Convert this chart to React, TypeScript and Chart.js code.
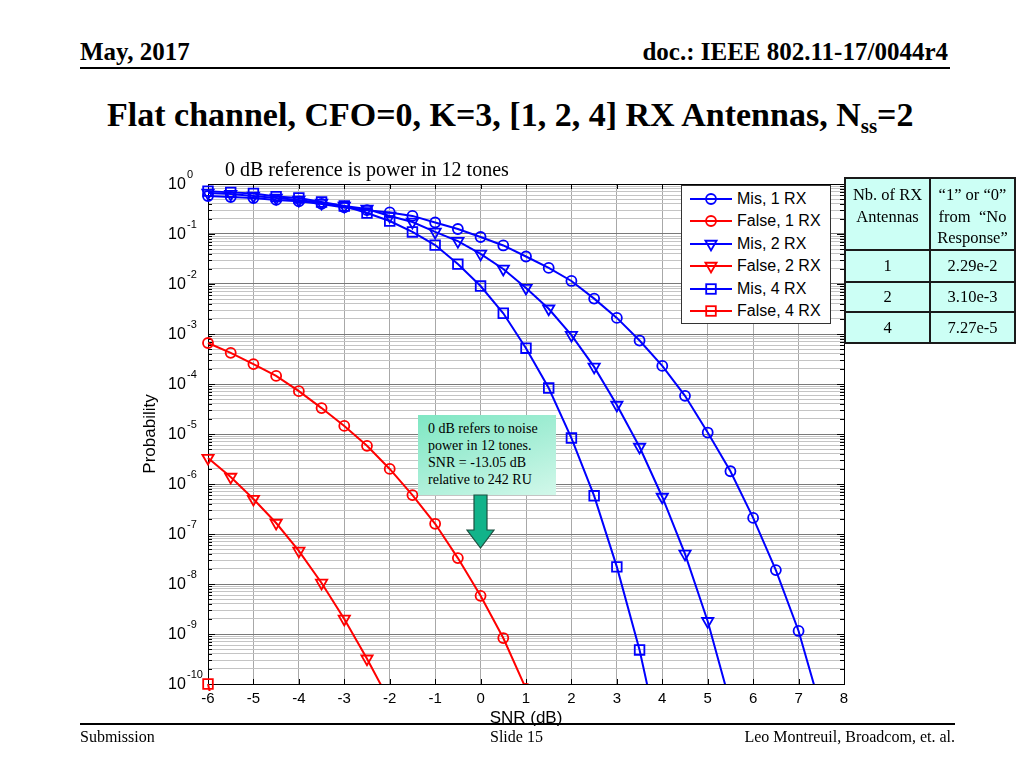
import React, { useEffect, useRef } from "react";
import { Chart, registerables } from "chart.js";
Chart.register(...registerables);

// ---- data ----
const snr = [-6, -5.5, -5, -4.5, -4, -3.5, -3, -2.5, -2, -1.5, -1, -0.5, 0, 0.5, 1, 1.5, 2, 2.5, 3, 3.5, 4, 4.5, 5, 5.5, 6, 6.5, 7, 7.5, 8];
const misRx1 = [0.575, 0.55, 0.525, 0.48, 0.45, 0.40, 0.34, 0.30, 0.27, 0.23, 0.17, 0.126, 0.087, 0.059, 0.0355, 0.021, 0.0115, 5.1e-3, 2.1e-3, 7.4e-4, 2.3e-4, 5.8e-5, 1.07e-5, 1.8e-6, 2.1e-7, 1.9e-8, 1.15e-9, 3e-11, null];
const falseRx1 = [6.6e-4, 4.2e-4, 2.5e-4, 1.45e-4, 7.2e-5, 3.3e-5, 1.45e-5, 5.8e-6, 2e-6, 6e-7, 1.6e-7, 3.3e-8, 5.8e-9, 8.3e-10, 8e-11, null, null, null, null, null, null, null, null, null, null, null, null, null, null];
const misRx2 = [0.66, 0.63, 0.575, 0.525, 0.48, 0.417, 0.363, 0.316, 0.229, 0.174, 0.11, 0.072, 0.04, 0.02, 8.3e-3, 3.2e-3, 9.5e-4, 2.2e-4, 3.8e-5, 5.5e-6, 5.5e-7, 4e-8, 1.8e-9, 4e-11, null, null, null, null, null];
const falseRx2 = [3.3e-6, 1.38e-6, 5e-7, 1.66e-7, 4.6e-8, 1.05e-8, 2e-9, 3.2e-10, 4.5e-11, null, null, null, null, null, null, null, null, null, null, null, null, null, null, null, null, null, null, null, null];
const misRx4 = [0.72, 0.68, 0.645, 0.56, 0.525, 0.437, 0.363, 0.263, 0.182, 0.11, 0.06, 0.025, 9.1e-3, 2.6e-3, 5.2e-4, 8.3e-5, 8.3e-6, 5.8e-7, 2.2e-8, 4.8e-10, 4e-12, null, null, null, null, null, null, null, null];
const falseRx4 = [1e-10, 1e-12, null, null, null, null, null, null, null, null, null, null, null, null, null, null, null, null, null, null, null, null, null, null, null, null, null, null, null];

const seriesNames = ["Mis, 1 RX", "False, 1 RX", "Mis, 2 RX", "False, 2 RX", "Mis, 4 RX", "False, 4 RX"];
const xTickValues = [-6, -5, -4, -3, -2, -1, 0, 1, 2, 3, 4, 5, 6, 7, 8];
const yDecades = [0, -1, -2, -3, -4, -5, -6, -7, -8, -9, -10];

const tableHeader = [["Nb. of RX", "Antennas"], ["\u201C1\u201D or \u201C0\u201D", "from  \u201CNo", "Response\u201D"]];
const tableAntennas = ["1", "2", "4"];
const tableValues = ["2.29e-2", "3.10e-3", "7.27e-5"];

const BLUE = "#0000ff";
const RED = "#ff0000";
const SANS = '"Liberation Sans", Arial, Helvetica, sans-serif';
const SERIF = '"Liberation Serif", "Times New Roman", Times, serif';

type Mk = "circle" | "tri" | "rect";
const seriesStyle: { color: string; mk: Mk }[] = [
  { color: BLUE, mk: "circle" },
  { color: RED, mk: "circle" },
  { color: BLUE, mk: "tri" },
  { color: RED, mk: "tri" },
  { color: BLUE, mk: "rect" },
  { color: RED, mk: "rect" },
];
const seriesValues = [misRx1, falseRx1, misRx2, falseRx2, misRx4, falseRx4];

const isDecade = (v: number) => Math.abs(Math.log10(v) - Math.round(Math.log10(v))) < 1e-6;

const framePlugin = {
  id: "frame",
  beforeDatasetsDraw(chart: any) {
    const { ctx, chartArea: a, scales } = chart;
    ctx.save();
    ctx.strokeStyle = "#000";
    ctx.lineWidth = 1;
    ctx.beginPath();
    for (const v of xTickValues) {
      const px = Math.round(scales.x.getPixelForValue(v)) + 0.5;
      ctx.moveTo(px, a.bottom);
      ctx.lineTo(px, a.bottom - 5);
      ctx.moveTo(px, a.top);
      ctx.lineTo(px, a.top + 5);
    }
    for (const t of scales.y.ticks) {
      const py = Math.round(scales.y.getPixelForValue(t.value)) + 0.5;
      const len = isDecade(t.value) ? 7 : 4;
      ctx.moveTo(a.left, py);
      ctx.lineTo(a.left + len, py);
      ctx.moveTo(a.right, py);
      ctx.lineTo(a.right - len, py);
    }
    ctx.stroke();
    ctx.strokeRect(Math.round(a.left) + 0.5, Math.round(a.top) + 0.5, Math.round(a.right - a.left), Math.round(a.bottom - a.top));
    ctx.restore();
  },
  afterDraw(chart: any) {
    const { ctx, scales } = chart;
    ctx.save();
    ctx.fillStyle = "#000";
    ctx.textAlign = "left";
    ctx.textBaseline = "middle";
    for (const e of yDecades) {
      const py = scales.y.getPixelForValue(Math.pow(10, e));
      ctx.font = `16px ${SANS}`;
      ctx.fillText("10", 38, py + 1);
      ctx.font = `11px ${SANS}`;
      ctx.fillText(String(e), 57, py - 9);
    }
    ctx.restore();
  },
};

function ChartCanvas() {
  const ref = useRef<HTMLCanvasElement | null>(null);
  useEffect(() => {
    if (!ref.current) return;
    const datasets = seriesValues.map((vals, i) => {
      const st = seriesStyle[i];
      const data = snr
        .map((x, j) => ({ x, y: vals[j] }))
        .filter((p) => p.y !== null && p.y !== undefined);
      const isLast = i === seriesValues.length - 1;
      return {
        label: seriesNames[i],
        data,
        borderColor: st.color,
        backgroundColor: st.color,
        borderWidth: 2,
        tension: 0,
        pointStyle: st.mk === "circle" ? "circle" : st.mk === "tri" ? "triangle" : "rect",
        pointRotation: st.mk === "tri" ? 180 : 0,
        pointRadius: st.mk === "circle" ? 5 : st.mk === "tri" ? 6.5 : 6.8,
        pointBorderWidth: 1.8,
        pointBorderColor: st.color,
        pointBackgroundColor: "rgba(0,0,0,0)",
        fill: false,
        clip: isLast ? { left: 8, top: 2, right: 2, bottom: 7 } : { left: 8, top: 2, right: 2, bottom: 0 },
      };
    });
    const chart = new Chart(ref.current, {
      type: "line",
      data: { datasets },
      options: {
        animation: false,
        responsive: false,
        maintainAspectRatio: false,
        layout: { padding: { left: 0, right: 16, top: 24, bottom: 0 } },
        plugins: { legend: { display: false }, tooltip: { enabled: false }, title: { display: false } },
        scales: {
          x: {
            type: "linear",
            min: -6,
            max: 8,
            afterFit: (s: any) => {
              s.height = 56;
            },
            afterBuildTicks: (s: any) => {
              s.ticks = xTickValues.map((v) => ({ value: v }));
            },
            ticks: {
              autoSkip: false,
              maxRotation: 0,
              padding: 6,
              color: "#000",
              font: { family: SANS, size: 15 },
              callback: (v: any) => String(v),
            },
            grid: { color: "#a8a8a8", lineWidth: 1, drawTicks: false },
            border: { display: true, color: "#000", width: 1 },
            title: {
              display: true,
              text: "SNR (dB)",
              color: "#000",
              font: { family: SANS, size: 17 },
              padding: { top: 0, bottom: 11 },
            },
          },
          y: {
            type: "logarithmic",
            min: 1e-10,
            max: 1,
            afterFit: (s: any) => {
              s.width = 78;
            },
            afterBuildTicks: (s: any) => {
              const t: { value: number }[] = [];
              for (let e = -10; e <= 0; e++) {
                for (let m = 1; m <= 9; m++) {
                  const v = m * Math.pow(10, e);
                  if (v <= 1.0000001) t.push({ value: v });
                }
              }
              s.ticks = t;
            },
            ticks: { display: false },
            grid: {
              drawTicks: false,
              lineWidth: 1,
              color: (c: any) => (c.tick && isDecade(c.tick.value) ? "#7a7a7a" : "#c4c4c4"),
            },
            border: { display: true, color: "#000", width: 1 },
            title: {
              display: true,
              text: "Probability",
              color: "#000",
              font: { family: SANS, size: 17 },
              padding: { top: 10, bottom: 0 },
            },
          },
        },
      },
      plugins: [framePlugin],
    });
    return () => chart.destroy();
  }, []);
  return (
    <canvas
      ref={ref}
      width={730}
      height={580}
      style={{ position: "absolute", left: 130, top: 160, width: 730, height: 580 }}
    />
  );
}

function MarkerSvg({ color, mk }: { color: string; mk: Mk }) {
  return (
    <svg width={52} height={22} style={{ position: "absolute", left: 0, top: 0 }}>
      <line x1={8} y1={11} x2={50} y2={11} stroke={color} strokeWidth={2} />
      {mk === "circle" && <circle cx={29} cy={11} r={5} fill="none" stroke={color} strokeWidth={1.8} />}
      {mk === "tri" && (
        <polygon points="23.4,7.75 34.6,7.75 29,17.5" fill="none" stroke={color} strokeWidth={1.8} />
      )}
      {mk === "rect" && <rect x={24.2} y={6.2} width={9.6} height={9.6} fill="none" stroke={color} strokeWidth={1.8} />}
    </svg>
  );
}

export default function App() {
  const lineV = (x: number, y1: number, y2: number) => (
    <div style={{ position: "absolute", left: x - 1, top: y1 - 1, width: 2, height: y2 - y1 + 2, background: "#1a1a1a" }} />
  );
  const lineH = (y: number, x1: number, x2: number) => (
    <div style={{ position: "absolute", left: x1 - 1, top: y - 1, width: x2 - x1 + 2, height: 2, background: "#1a1a1a" }} />
  );
  const rowTops = [250, 282, 312];
  const rowBottoms = [282, 312, 343];
  return (
    <div
      style={{
        position: "absolute",
        left: 0,
        top: 0,
        width: 1024,
        height: 768,
        background: "#fff",
        overflow: "hidden",
        fontFamily: SERIF,
        color: "#000",
      }}
    >
      {/* header */}
      <div style={{ position: "absolute", left: 80, top: 39, fontSize: 25, fontWeight: "bold", lineHeight: 1, whiteSpace: "nowrap" }}>
        May, 2017
      </div>
      <div style={{ position: "absolute", right: 1024 - 948, top: 39, fontSize: 25, fontWeight: "bold", lineHeight: 1, whiteSpace: "nowrap" }}>
        doc.: IEEE 802.11-17/0044r4
      </div>
      <div style={{ position: "absolute", left: 80, top: 67, width: 870, height: 2, background: "#000" }} />

      {/* title */}
      <div style={{ position: "absolute", left: 107, top: 98, fontSize: 34, fontWeight: "bold", lineHeight: 1, whiteSpace: "nowrap" }}>
        Flat channel, CFO=0, K=3, [1, 2, 4] RX Antennas, N
        <span style={{ fontSize: 21, position: "relative", top: 7 }}>ss</span>=2
      </div>

      <ChartCanvas />

      {/* subtitle */}
      <div style={{ position: "absolute", left: 225, top: 159, fontSize: 20, lineHeight: 1, whiteSpace: "nowrap" }}>
        0 dB reference is power in 12 tones
      </div>

      {/* legend */}
      <div
        style={{
          position: "absolute",
          left: 681,
          top: 185,
          width: 148,
          height: 137,
          background: "#fff",
          border: "1px solid #333",
          fontFamily: SANS,
        }}
      >
        {seriesNames.map((n, i) => (
          <div key={n} style={{ position: "absolute", left: 0, top: 2 + i * 22.4, width: 148, height: 22 }}>
            <MarkerSvg color={seriesStyle[i].color} mk={seriesStyle[i].mk} />
            <div style={{ position: "absolute", left: 55, top: 0, lineHeight: "22px", fontSize: 16, whiteSpace: "nowrap" }}>{n}</div>
          </div>
        ))}
      </div>

      {/* table */}
      <div style={{ position: "absolute", left: 845, top: 178, width: 170, height: 165, background: "#ccfff5" }} />
      <div style={{ position: "absolute", left: 845, top: 180, width: 85, textAlign: "center", fontSize: 16.5, lineHeight: "21.7px", paddingTop: 4 }}>
        {tableHeader[0].map((l) => (
          <div key={l}>{l}</div>
        ))}
      </div>
      <div style={{ position: "absolute", left: 930, top: 180, width: 85, textAlign: "center", fontSize: 16.5, lineHeight: "21.7px", paddingTop: 4, whiteSpace: "pre" }}>
        {tableHeader[1].map((l) => (
          <div key={l}>{l}</div>
        ))}
      </div>
      {tableAntennas.map((a, i) => (
        <React.Fragment key={a}>
          <div
            style={{
              position: "absolute",
              left: 845,
              top: rowTops[i],
              width: 85,
              height: rowBottoms[i] - rowTops[i],
              display: "flex",
              alignItems: "center",
              justifyContent: "center",
              fontSize: 16.5,
            }}
          >
            {a}
          </div>
          <div
            style={{
              position: "absolute",
              left: 930,
              top: rowTops[i],
              width: 85,
              height: rowBottoms[i] - rowTops[i],
              display: "flex",
              alignItems: "center",
              justifyContent: "center",
              fontSize: 16.5,
            }}
          >
            {tableValues[i]}
          </div>
        </React.Fragment>
      ))}
      {lineV(845, 178, 343)}
      {lineV(930, 178, 343)}
      {lineV(1015, 178, 343)}
      {lineH(178, 845, 1015)}
      {lineH(250, 845, 1015)}
      {lineH(282, 845, 1015)}
      {lineH(312, 845, 1015)}
      {lineH(343, 845, 1015)}

      {/* annotation */}
      <div
        style={{
          position: "absolute",
          left: 418,
          top: 415,
          width: 138,
          height: 80,
          background: "linear-gradient(160deg, #7fe7c3 0%, #a6eed6 50%, #d2f8ea 100%)",
          boxSizing: "border-box",
          paddingLeft: 10,
          paddingTop: 4.6,
          fontSize: 14,
          lineHeight: "17.3px",
          whiteSpace: "nowrap",
        }}
      >
        <div>0 dB refers to noise</div>
        <div>power in 12 tones.</div>
        <div>SNR = -13.05 dB</div>
        <div>relative to 242 RU</div>
      </div>
      <svg width={36} height={60} style={{ position: "absolute", left: 462, top: 493 }}>
        <polygon
          points="12,2 25,2 25,37 32,37 18.5,55 5,37 12,37"
          fill="#12b38a"
          stroke="#1d4f40"
          strokeWidth={1.2}
        />
      </svg>

      {/* footer */}
      <div style={{ position: "absolute", left: 80, top: 723, width: 875, height: 2, background: "#000" }} />
      <div style={{ position: "absolute", left: 80, top: 729, fontSize: 16, lineHeight: 1, whiteSpace: "nowrap" }}>Submission</div>
      <div style={{ position: "absolute", left: 490, top: 729, fontSize: 16, lineHeight: 1, whiteSpace: "nowrap" }}>Slide 15</div>
      <div style={{ position: "absolute", right: 1024 - 955, top: 729, fontSize: 16, lineHeight: 1, whiteSpace: "nowrap" }}>
        Leo Montreuil, Broadcom, et. al.
      </div>
    </div>
  );
}
